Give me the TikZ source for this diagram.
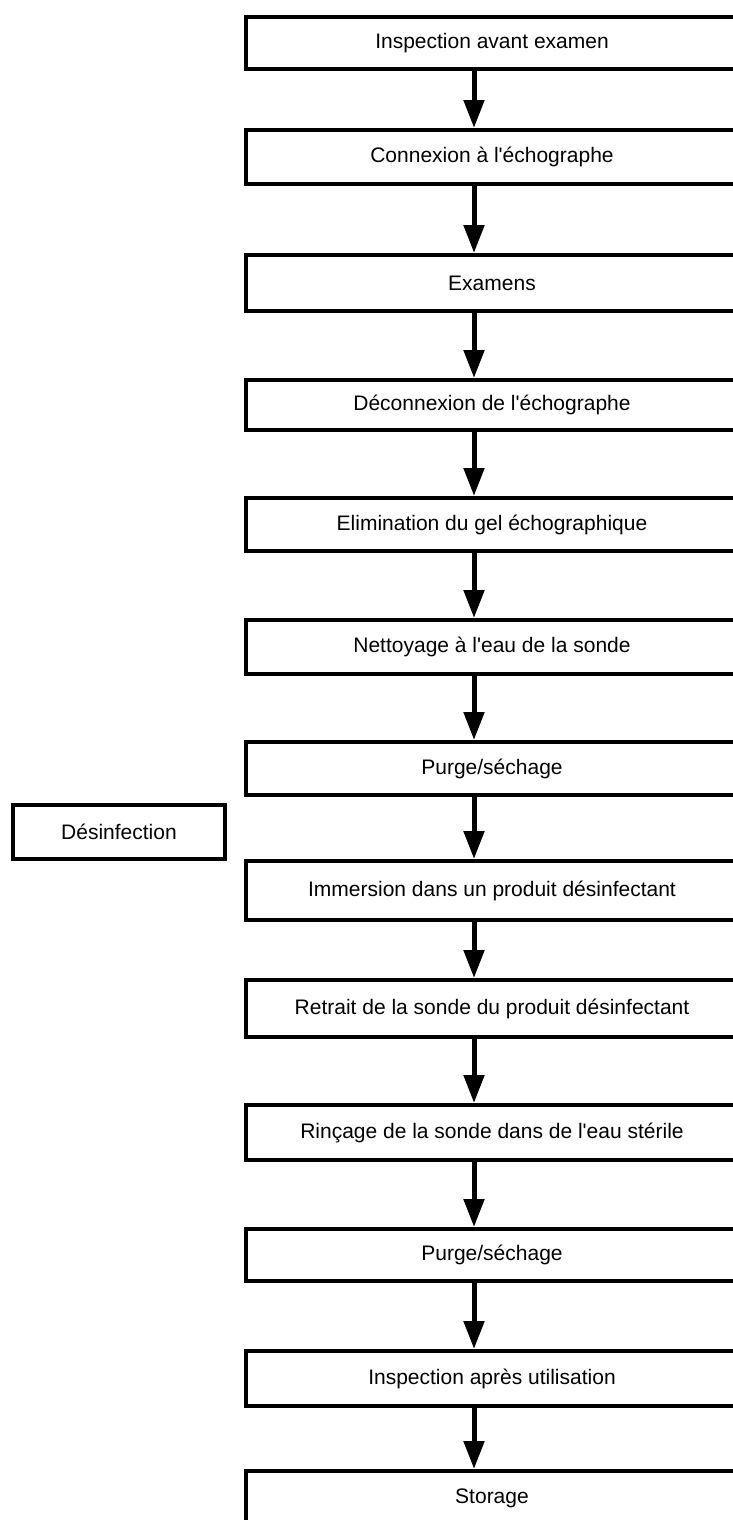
\documentclass[tikz,border=0pt]{standalone}
\usepackage{fontspec}
\setmainfont{Liberation Sans}[Ligatures=TeXOff]
\usetikzlibrary{arrows.meta}
\tikzset{
  stepbox/.style={draw=black, line width=4pt, rectangle, inner sep=0pt,
    minimum width=492pt, font=\fontsize{21}{25}\selectfont, fill=white},
  sidebox/.style={stepbox, minimum width=212pt},
  arr/.style={line width=5pt, -{Triangle[width=20pt,length=28pt]}}
}
\begin{document}
\begin{tikzpicture}[x=1pt,y=-1pt]
\useasboundingbox (0,0) rectangle (733,1520);
\clip (0,0) rectangle (733,1520);
\fill[white] (0,0) rectangle (733,1520);
\coordinate (ax) at (474,0);
\node[stepbox, minimum height=52pt] (b1) at (492,43) {Inspection avant examen};
\node[stepbox, minimum height=54pt] (b2) at (492,157) {Connexion à l'échographe};
\node[stepbox, minimum height=56pt] (b3) at (492,283) {Examens};
\node[stepbox, minimum height=50pt] (b4) at (492,405) {Déconnexion de l'échographe};
\node[stepbox, minimum height=53pt] (b5) at (492,524.5) {Elimination du gel échographique};
\node[stepbox, minimum height=54pt] (b6) at (492,647) {Nettoyage à l'eau de la sonde};
\node[stepbox, minimum height=53pt] (b7) at (492,768.5) {Purge/séchage};
\node[stepbox, minimum height=59pt] (b8) at (492,890.5) {Immersion dans un produit désinfectant};
\node[stepbox, minimum height=57pt] (b9) at (492,1008.5) {Retrait de la sonde du produit désinfectant};
\node[stepbox, minimum height=55pt] (b10) at (492,1132.5) {Rinçage de la sonde dans de l'eau stérile};
\node[stepbox, minimum height=52pt] (b11) at (492,1255) {Purge/séchage};
\node[stepbox, minimum height=55pt] (b12) at (492,1378.5) {Inspection après utilisation};
\node[stepbox, minimum height=54pt] (b13) at (492,1498) {Storage};
\node[sidebox, minimum height=54pt] (des) at (119,832) {Désinfection};
\foreach \a/\b in {b1/b2,b2/b3,b3/b4,b4/b5,b5/b6,b6/b7,b7/b8,b8/b9,b9/b10,b10/b11,b11/b12,b12/b13}
  \draw[arr] (\a.south -| ax) -- (\b.north -| ax);
\end{tikzpicture}
\end{document}
